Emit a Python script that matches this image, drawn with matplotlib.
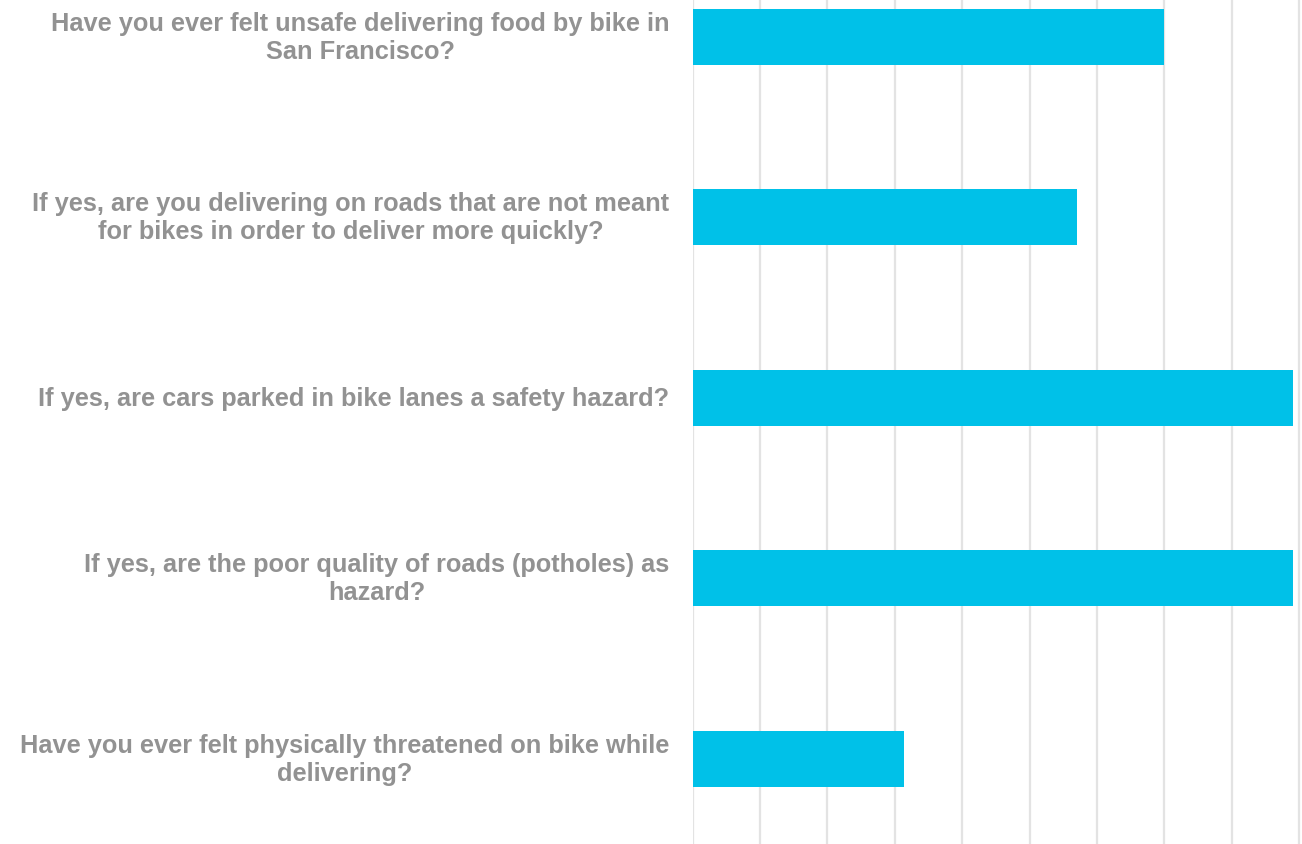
import matplotlib
matplotlib.use("Agg")
import matplotlib.pyplot as plt

questions = [
    "Have you ever felt unsafe delivering food by bike in\nSan Francisco?",
    "If yes, are you delivering on roads that are not meant\nfor bikes in order to deliver more quickly?",
    "If yes, are cars parked in bike lanes a safety hazard?",
    "If yes, are the poor quality of roads (potholes) as\nhazard?",
    "Have you ever felt physically threatened on bike while\ndelivering?",
]
values = [70, 57, 89, 89, 31.4]
grid_ticks = [0, 10, 20, 30, 40, 50, 60, 70, 80, 90]

W, H = 1302, 845
fig = plt.figure(figsize=(W / 100, H / 100), dpi=100)
left = 692.5 / W
ax = fig.add_axes([left, 0, 1 - left, 1])

ypos = list(range(len(questions)))
ax.barh(ypos, values, height=0.31, color="#00C1E8", zorder=3)

ax.set_xlim(0, 90.4)
ax.set_ylim(4.472, -0.21)
ax.set_xticks(grid_ticks)
ax.set_xticklabels([])
ax.tick_params(axis="x", length=0)
ax.grid(axis="x", color="#e3e3e3", linewidth=1.6, zorder=0)
ax.set_yticks(ypos)
ax.set_yticklabels([])
ax.tick_params(axis="y", length=0)
for s in ax.spines.values():
    s.set_visible(False)

for y, q in zip(ypos, questions):
    ax.annotate(q, xy=(0, y), xycoords=("axes fraction", "data"),
                xytext=(-23, 0), textcoords="offset pixels",
                ha="right", va="center", multialignment="center",
                fontsize=18.3, fontweight="bold", color="#929292",
                family="Liberation Sans", linespacing=1.2)

fig.savefig("out.png", dpi=100)
